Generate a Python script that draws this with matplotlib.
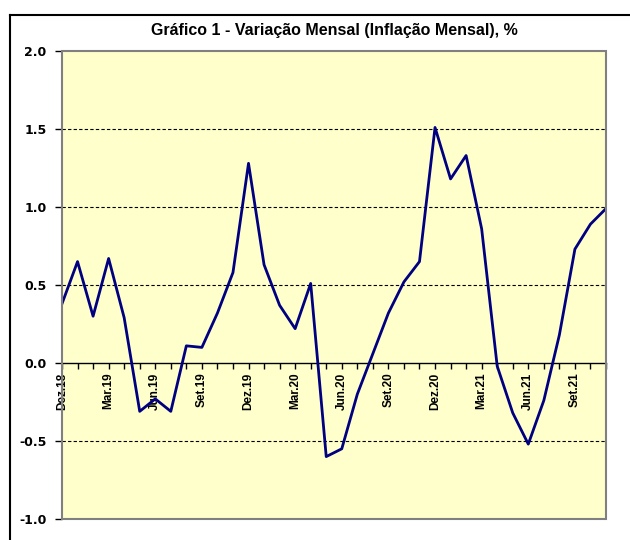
import matplotlib.pyplot as plt
from matplotlib.lines import Line2D
from matplotlib.patches import Rectangle

# monthly inflation, Dez.18 .. Nov.21
months = ["Dez.18", "Jan.19", "Fev.19", "Mar.19", "Abr.19", "Mai.19", "Jun.19", "Jul.19",
          "Ago.19", "Set.19", "Out.19", "Nov.19", "Dez.19", "Jan.20", "Fev.20", "Mar.20",
          "Abr.20", "Mai.20", "Jun.20", "Jul.20", "Ago.20", "Set.20", "Out.20", "Nov.20",
          "Dez.20", "Jan.21", "Fev.21", "Mar.21", "Abr.21", "Mai.21", "Jun.21", "Jul.21",
          "Ago.21", "Set.21", "Out.21", "Nov.21"]
inflacao = [0.38, 0.65, 0.30, 0.67, 0.29, -0.31, -0.23, -0.31,
            0.11, 0.10, 0.32, 0.58, 1.28, 0.63, 0.37, 0.22,
            0.51, -0.60, -0.55, -0.20, 0.06, 0.32, 0.52, 0.65,
            1.51, 1.18, 1.33, 0.86, -0.02, -0.32, -0.52, -0.24,
            0.18, 0.73, 0.89, 0.99]
yticks = [-1.0, -0.5, 0.0, 0.5, 1.0, 1.5, 2.0]
grid_levels = [-0.5, 0.5, 1.0, 1.5]

fig = plt.figure(figsize=(6.3, 5.4), dpi=100)
ax = fig.add_axes([62/630, 1 - 519/540, 544/630, 468/540])
ax.set_facecolor('#FFFFCC')

# x axis sits on the zero line (do this before styling ticks, it resets them)
ax.spines['bottom'].set_position(('data', 0))
ax.spines['bottom'].set_color('black')
ax.spines['bottom'].set_linewidth(1.0)
for s in ['top', 'right', 'left']:
    ax.spines[s].set_visible(False)

x = list(range(len(months)))
ax.plot(x, inflacao, color='#000080', lw=2.0, zorder=3)

for g in grid_levels:
    ax.axhline(g, color='black', lw=0.8, ls=(0, (3, 2)), zorder=1)

ax.set_xlim(0, len(months) - 1)
ax.set_ylim(-1.0, 2.0)

ax.set_yticks(yticks)
ax.set_yticklabels(["%.1f" % v for v in yticks], fontsize=9, fontweight='bold',
                   family='DejaVu Sans')
ax.set_xticks(x)
ax.set_xticklabels([m if i % 3 == 0 else "" for i, m in enumerate(months)],
                   rotation=90, fontsize=8.5, fontweight='bold', family='Liberation Sans')

ax.add_patch(Rectangle((0, 0), 1, 1, transform=ax.transAxes, fill=False,
                       ec='#808080', lw=1.5, clip_on=False, zorder=4))

ax.tick_params(axis='x', direction='out', length=4, width=1, color='black', pad=3)
ax.tick_params(axis='y', direction='out', length=5, width=1, color='black', pad=6)

fig.text(334/630, 1 - 31/540, "Gráfico 1 - Variação Mensal (Inflação Mensal), %",
         ha='center', va='center', fontsize=11.5, fontweight='bold', family='Liberation Sans')

# outer chart frame (cut off at right and bottom)
fig.add_artist(Line2D([9.5/630, 9.5/630], [0, 1 - 15/540], color='black', lw=1.5))
fig.add_artist(Line2D([9.5/630, 1], [1 - 15/540, 1 - 15/540], color='black', lw=1.5))

fig.savefig("out.png", dpi=100)
